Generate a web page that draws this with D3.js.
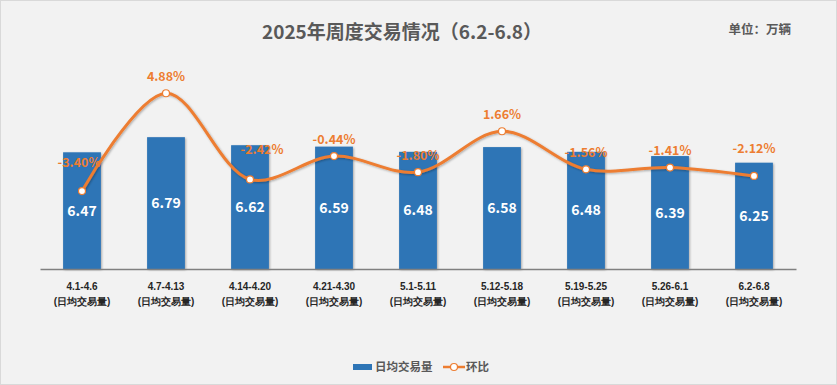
<!DOCTYPE html>
<html>
<head>
<meta charset="utf-8">
<script src="https://cdn.jsdelivr.net/npm/d3@7"></script>
<style>
  html, body { margin: 0; padding: 0; background: #f2f2f2; }
  svg { display: block; font-family: "Noto Sans CJK SC", "Noto Sans", sans-serif; }
</style>
</head>
<body>
<svg id="chart" width="837" height="385"></svg>
<script>
// weekly ranges and values
let weeks = ["4.1-4.6", "4.7-4.13", "4.14-4.20", "4.21-4.30", "5.1-5.11",
             "5.12-5.18", "5.19-5.25", "5.26-6.1", "6.2-6.8"];
let dailyVolume = [6.47, 6.79, 6.62, 6.59, 6.48, 6.58, 6.48, 6.39, 6.25];
let weekOnWeek = [-3.40, 4.88, -2.42, -0.44, -1.80, 1.66, -1.56, -1.41, -2.12];
let subLabel = "(日均交易量)";
let seriesNames = ["日均交易量", "环比"];

// manual nudges of the % labels (as set in the original sheet)
let pctLabelDx = [-3, 0, 12, 0, 0, 0, 0, 0, 0];
let pctLabelDy = [-29, -17, -30, -17, -17, -17, -17, -17, -27];

var drawChart = function() {
  let svg = d3.select("#chart");
  let width = 837, height = 385;
  let blue = "#2e75b6", orange = "#ed7d31";

  let margin = { top: 80, right: 41, bottom: 116, left: 40 };
  let plotWidth = width - margin.left - margin.right;
  let plotHeight = height - margin.top - margin.bottom;

  let defs = svg.append("defs");
  let shadow = defs.append("filter").attr("id", "shadow")
    .attr("x", "-20%").attr("y", "-20%").attr("width", "140%").attr("height", "140%");
  shadow.append("feDropShadow")
    .attr("dx", 1).attr("dy", 1).attr("stdDeviation", 1)
    .attr("flood-color", "#000").attr("flood-opacity", 0.3);

  // background and frame
  svg.append("rect")
    .attr("x", 0.5).attr("y", 0.5)
    .attr("width", width - 1).attr("height", height - 1)
    .attr("fill", "#f2f2f2").attr("stroke", "#d9d9d9");

  svg.append("text")
    .attr("x", 402).attr("y", 39)
    .attr("text-anchor", "middle")
    .attr("font-size", 19).attr("font-weight", "bold")
    .attr("fill", "#595959")
    .text("2025年周度交易情况（6.2-6.8）");

  svg.append("text")
    .attr("x", 791).attr("y", 34)
    .attr("text-anchor", "end")
    .attr("font-size", 12.5).attr("font-weight", "bold")
    .attr("fill", "#595959")
    .text("单位：万辆");

  let x = d3.scaleBand()
    .domain(weeks)
    .range([0, plotWidth])
    .paddingInner(0.55)
    .paddingOuter(0.275);

  let yBar = d3.scaleLinear().domain([4, 8]).range([plotHeight, 0]);
  let yPct = d3.scaleLinear().domain([-10, 6]).range([plotHeight, 0]);

  let plot = svg.append("g")
    .attr("transform", "translate(" + margin.left + "," + margin.top + ")");

  // bars
  plot.selectAll("rect.bar")
    .data(dailyVolume)
    .enter().append("rect")
    .attr("class", "bar")
    .attr("x", (d, i) => x(weeks[i]))
    .attr("y", d => yBar(d))
    .attr("width", x.bandwidth())
    .attr("height", d => plotHeight - yBar(d))
    .attr("fill", blue)
    .attr("filter", "url(#shadow)");

  plot.selectAll("text.barLabel")
    .data(dailyVolume)
    .enter().append("text")
    .attr("class", "barLabel")
    .attr("x", (d, i) => x(weeks[i]) + x.bandwidth() / 2)
    .attr("y", d => (yBar(d) + plotHeight) / 2)
    .attr("dy", "0.36em")
    .attr("text-anchor", "middle")
    .attr("font-size", 14).attr("font-weight", "bold")
    .attr("fill", "#ffffff")
    .text(d => d.toFixed(2));

  // x axis
  let xAxis = d3.axisBottom(x).tickSize(0).tickPadding(0);
  let xGroup = plot.append("g")
    .attr("transform", "translate(0," + plotHeight + ")")
    .call(xAxis);
  xGroup.select(".domain").attr("stroke", "#808080").attr("stroke-width", 1.5);
  xGroup.selectAll(".tick text").remove();
  xGroup.selectAll(".tick").each(function(d) {
    let t = d3.select(this).append("text")
      .attr("text-anchor", "middle")
      .attr("font-size", 10).attr("font-weight", "bold")
      .attr("fill", "#262626");
    t.append("tspan").attr("x", 0).attr("y", 21).text(d);
    t.append("tspan").attr("x", 0).attr("y", 36).text(subLabel);
  });

  // week-on-week line
  let line = d3.line()
    .x((d, i) => x(weeks[i]) + x.bandwidth() / 2)
    .y(d => yPct(d))
    .curve(d3.curveCatmullRom.alpha(0.5));

  plot.append("path")
    .datum(weekOnWeek)
    .attr("d", line)
    .attr("fill", "none")
    .attr("stroke", orange)
    .attr("stroke-width", 3)
    .attr("stroke-linecap", "round")
    .attr("filter", "url(#shadow)");

  plot.selectAll("circle.pt")
    .data(weekOnWeek)
    .enter().append("circle")
    .attr("class", "pt")
    .attr("cx", (d, i) => x(weeks[i]) + x.bandwidth() / 2)
    .attr("cy", d => yPct(d))
    .attr("r", 3.5)
    .attr("fill", "#ffffff")
    .attr("stroke", orange)
    .attr("stroke-width", 1.2);

  plot.selectAll("text.pctLabel")
    .data(weekOnWeek)
    .enter().append("text")
    .attr("class", "pctLabel")
    .attr("x", (d, i) => x(weeks[i]) + x.bandwidth() / 2 + pctLabelDx[i])
    .attr("y", (d, i) => yPct(d) + pctLabelDy[i])
    .attr("dy", "0.36em")
    .attr("text-anchor", "middle")
    .attr("font-size", 12.5).attr("font-weight", "bold")
    .attr("fill", orange)
    .text(d => d.toFixed(2) + "%");

  // legend
  let legend = svg.append("g").attr("transform", "translate(0,367)");
  legend.append("rect")
    .attr("x", 353).attr("y", -3).attr("width", 19).attr("height", 6)
    .attr("fill", blue);
  legend.append("text")
    .attr("x", 375).attr("y", 0).attr("dy", "0.36em")
    .attr("font-size", 11.5).attr("font-weight", "bold").attr("fill", "#595959")
    .text(seriesNames[0]);
  legend.append("line")
    .attr("x1", 443).attr("x2", 465).attr("y1", 0).attr("y2", 0)
    .attr("stroke", orange).attr("stroke-width", 2.5);
  legend.append("circle")
    .attr("cx", 454).attr("cy", 0).attr("r", 3.5)
    .attr("fill", "#ffffff").attr("stroke", orange).attr("stroke-width", 1.2);
  legend.append("text")
    .attr("x", 466).attr("y", 0).attr("dy", "0.36em")
    .attr("font-size", 11.5).attr("font-weight", "bold").attr("fill", "#595959")
    .text(seriesNames[1]);
}

drawChart();
</script>
</body>
</html>
